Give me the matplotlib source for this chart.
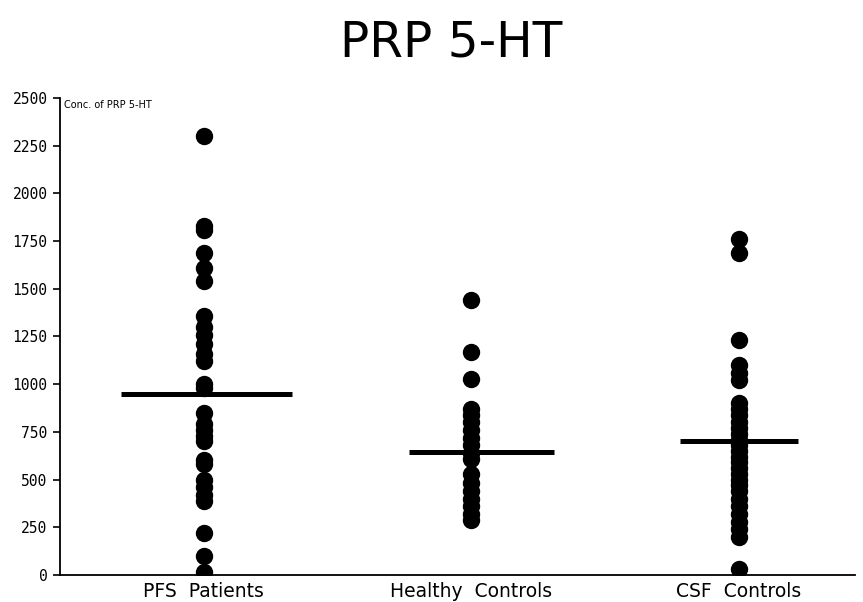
import matplotlib
matplotlib.use("Agg")
import matplotlib.pyplot as plt

# --- data ---
groups = ["PFS  Patients", "Healthy  Controls", "CSF  Controls"]
pfs = [2300, 1830, 1810, 1690, 1610, 1540, 1360, 1300, 1260, 1210, 1160, 1120,
       1000, 980, 850, 790, 760, 730, 700, 600, 580, 500, 460, 420, 390, 220, 100, 15]
healthy = [1440, 1170, 1025, 870, 840, 800, 760, 720, 680, 640, 610, 530, 480,
           440, 400, 360, 320, 290]
csf = [1760, 1690, 1230, 1100, 1060, 1020, 900, 870, 840, 800, 770, 740, 710, 680,
       650, 620, 590, 560, 530, 500, 470, 440, 400, 360, 320, 280, 240, 200, 30]
means = [950, 645, 700]
yticks = [0, 250, 500, 750, 1000, 1250, 1500, 1750, 2000, 2250, 2500]

# mean bar extents (left, right) around each group, in group units
bar_ext = [(-0.31, 0.33), (-0.235, 0.31), (-0.22, 0.22)]

fig = plt.figure(figsize=(8.63, 6.02), dpi=100)
ax = fig.add_axes([0.0695, 0.0449, 0.9212, 0.7923])

for i, vals in enumerate([pfs, healthy, csf]):
    x = i + 1
    ax.plot([x] * len(vals), vals, 'o', color='black', ms=11.5, mec='black', zorder=3)
    ax.hlines(means[i], x + bar_ext[i][0], x + bar_ext[i][1], color='black', linewidth=3.6, zorder=2)

ax.set_xlim(0.462, 3.434)
ax.set_ylim(0, 2500)
ax.set_yticks(yticks)
ax.set_yticklabels([str(t) for t in yticks], family='DejaVu Sans Mono', fontsize=10.5)
ax.set_xticks([1, 2, 3])
ax.set_xticklabels(groups, fontsize=13.5)
ax.tick_params(axis='x', length=0, pad=5)
ax.tick_params(axis='y', length=5, width=1.2, pad=4)

for s in ['top', 'right']:
    ax.spines[s].set_visible(False)
for s in ['left', 'bottom']:
    ax.spines[s].set_linewidth(1.3)

ax.text(0.005, 0.995, "Conc. of PRP 5-HT", transform=ax.transAxes, fontsize=7, va='top', ha='left')
fig.text(0.523, 0.93, "PRP 5-HT", fontsize=35, ha='center', va='center')

fig.savefig("out.png", dpi=100)
